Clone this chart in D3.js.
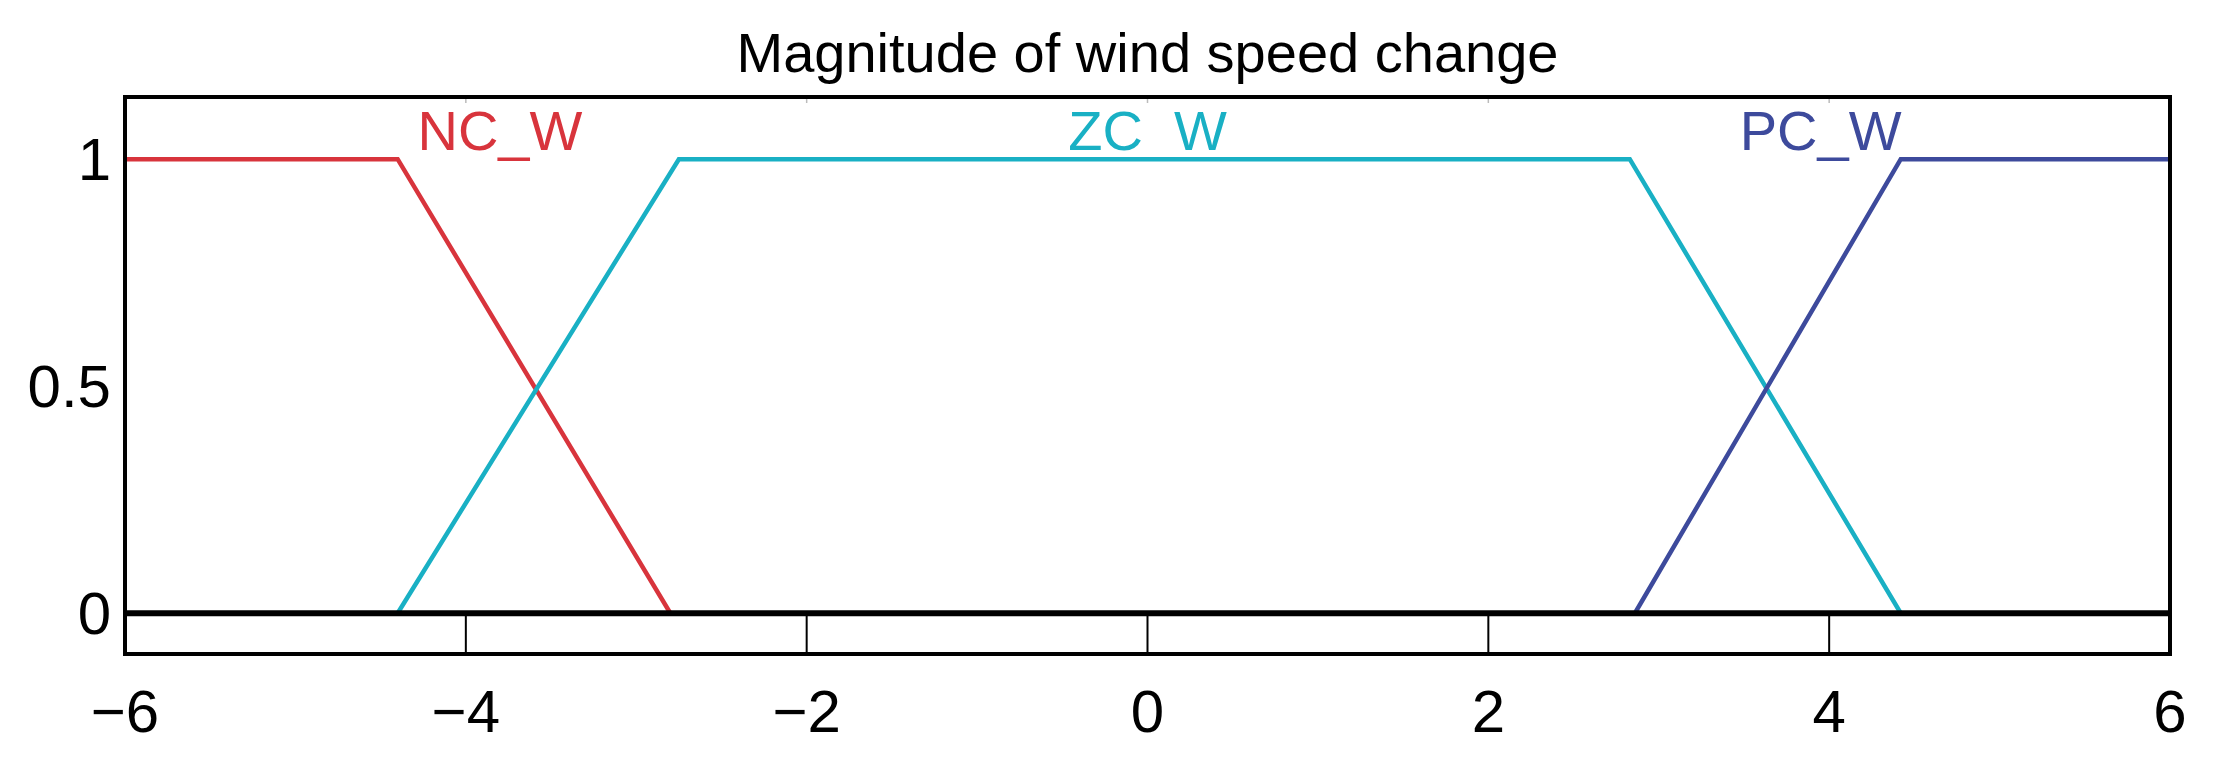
<!DOCTYPE html>
<html><head><meta charset="utf-8">
<script src="https://cdn.jsdelivr.net/npm/d3@7"></script>
<style>body{margin:0;background:#fff}</style></head>
<body><svg id="c" width="2222" height="761"></svg>
<script>
const title = "Magnitude of wind speed change";
const xTicks = [-6,-4,-2,0,2,4,6];
const yTicks = [0,0.5,1];
const ncX = [-6,-4.4,-2.8,6];   const ncY = [1,1,0,0];
const zcX = [-6,-4.4,-2.75,2.83,4.42,6]; const zcY = [0,0,1,1,0,0];
const pcX = [-6,2.86,4.42,6];   const pcY = [0,0,1,1];
const labels = ["NC_W","ZC_W","PC_W"];
const labelX = [-3.8,0,3.95];
const colors = ["#d8343c","#19b0c4","#3d4a9c"];

const svg = d3.select("#c");
const L=125,R=2170,T=97,B=654;
const x = d3.scaleLinear().domain([-6,6]).range([L,R]);
const y = d3.scaleLinear().domain([-0.09,1.137]).range([B,T]);
const font = "Liberation Sans, Arial, sans-serif";

svg.append("g").selectAll("line").data(xTicks.slice(1,-1)).join("line")
  .attr("x1",d=>x(d)).attr("x2",d=>x(d)).attr("y1",y(0)).attr("y2",B)
  .attr("stroke","#000").attr("stroke-width",2);
svg.append("g").selectAll("line").data(xTicks.slice(1,-1)).join("line")
  .attr("x1",d=>x(d)).attr("x2",d=>x(d)).attr("y1",T).attr("y2",T+6)
  .attr("stroke","#bbb").attr("stroke-width",1.5);

const series=[[ncX,ncY],[zcX,zcY],[pcX,pcY]];
const line=d3.line().x(d=>x(d[0])).y(d=>y(d[1]));
series.forEach((s,i)=>{
  svg.append("path").attr("d",line(d3.zip(s[0],s[1])))
    .attr("fill","none").attr("stroke",colors[i]).attr("stroke-width",4.5);
});
svg.append("line").attr("x1",L).attr("x2",R).attr("y1",y(0)).attr("y2",y(0))
  .attr("stroke","#000").attr("stroke-width",6);
svg.append("rect").attr("x",L).attr("y",T).attr("width",R-L).attr("height",B-T)
  .attr("fill","none").attr("stroke","#000").attr("stroke-width",4);

labels.forEach((t,i)=>{
  svg.append("text").attr("x",x(labelX[i])).attr("y",150).attr("text-anchor","middle")
    .attr("font-family",font).attr("font-size",56).attr("fill",colors[i]).text(t);
});

svg.append("g").selectAll("text").data(xTicks).join("text")
  .attr("x",d=>x(d)).attr("y",732).attr("text-anchor","middle")
  .attr("font-family",font).attr("font-size",60).attr("fill","#000")
  .text(d=>d3.format("")(d).replace("-","\u2212"));
svg.append("g").selectAll("text").data(yTicks).join("text")
  .attr("x",L-14).attr("y",d=>y(d)+21).attr("text-anchor","end")
  .attr("font-family",font).attr("font-size",60).attr("fill","#000")
  .text(d=>String(d));

svg.append("text").attr("x",(L+R)/2).attr("y",72).attr("text-anchor","middle")
  .attr("font-family",font).attr("font-size",56).attr("fill","#000").text(title);
</script></body></html>
